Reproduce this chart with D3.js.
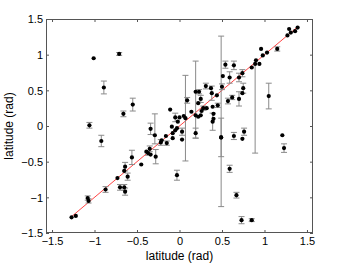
<!DOCTYPE html>
<html><head><meta charset="utf-8">
<script src="https://cdn.jsdelivr.net/npm/d3@7"></script>
<style>html,body{margin:0;padding:0;background:#fff;}svg{display:block;}</style>
</head><body>
<svg id="c" width="346" height="264"></svg>
<script>
// true latitude (x), estimated latitude (y), lower / upper error
const xVals = [-1.27,-1.22,-1.08,-1.07,-1.06,-1.01,-0.92,-0.89,-0.87,-0.73,-0.71,-0.70,-0.66,-0.65,-0.64,-0.64,-0.65,-0.61,-0.56,-0.55,-0.45,-0.39,-0.37,-0.35,-0.34,-0.34,-0.29,-0.28,-0.22,-0.21,-0.16,-0.15,-0.11,-0.09,-0.08,-0.08,-0.05,-0.05,-0.03,-0.03,-0.02,0.00,0.03,0.03,0.05,0.07,0.09,0.14,0.19,0.19,0.19,0.22,0.22,0.23,0.25,0.25,0.26,0.28,0.31,0.32,0.37,0.38,0.39,0.39,0.40,0.40,0.44,0.45,0.49,0.49,0.51,0.50,0.54,0.57,0.59,0.59,0.62,0.64,0.64,0.67,0.70,0.70,0.73,0.74,0.74,0.74,0.75,0.76,0.85,0.85,0.89,0.94,0.90,0.96,0.98,1.03,1.05,1.15,1.21,1.23,1.27,1.29,1.31,1.36,1.39];
const yVals = [-1.28,-1.26,-1.01,-1.05,0.01,0.95,-0.21,0.54,-0.89,-0.73,1.01,-0.86,0.17,-0.86,-0.92,-0.57,-0.63,-0.71,-0.44,0.30,-0.54,-0.36,-0.38,-0.32,-0.40,-0.04,-0.13,-0.43,-0.23,-0.20,-0.14,-0.24,0.23,-0.01,-0.10,-0.17,-0.06,0.12,-0.03,-0.69,0.06,0.12,-0.19,-0.08,0.14,0.11,0.36,0.20,0.48,0.15,-0.10,0.13,0.32,0.48,0.38,0.15,0.21,0.25,0.56,0.25,0.53,0.46,0.27,0.06,0.17,0.10,0.43,0.29,-0.16,-0.16,0.70,0.55,0.86,0.35,0.68,-0.60,0.40,0.85,-0.14,-0.97,0.68,0.38,-1.32,0.74,0.46,-0.18,0.53,-0.08,-1.32,0.82,0.87,0.87,0.92,1.08,0.99,1.03,0.42,1.08,-0.13,-0.31,1.27,1.36,1.31,1.33,1.38];
const errLow = [0,0,0.03,0.03,0.04,0,0.08,0.09,0.04,0,0.02,0.04,0.04,0.04,0.05,0.06,0,0.05,0.10,0.09,0,0,0.03,0.04,0,0.08,0.12,0.10,0.04,0,0,0.03,0,0,0,0,0,0.06,0,0.07,0,0,0,0.05,0,0.60,0.04,0,0.65,0,0.07,0,0,0.03,0.05,0,0,0.03,0.04,0,0,0.10,0,0.12,0,0,0,0.03,0.97,0.27,0,0.04,0.05,0.04,0.08,0.05,0.03,0.06,0.05,0.04,0.06,0.10,0.05,0.05,0,0,0.07,0.05,0.02,0,1.25,0,0,0,0,0,0.18,0.03,0,0.06,0,0,0,0,0];
const errHigh = [0,0,0.03,0.03,0.04,0,0.08,0.09,0.04,0,0.02,0.04,0.04,0.04,0.05,0.06,0,0.05,0.10,0.09,0,0,0.03,0.04,0,0.08,0.30,0.10,0.04,0,0,0.03,0,0,0,0,0,0.06,0,0.07,0,0,0,0.05,0,0.60,0.04,0,0.43,0,0.07,0,0,0.03,0.05,0,0,0.03,0.04,0,0,0.10,0,0.12,0,0,0,0.03,1.42,0.27,0,0.04,0.05,0.04,0.08,0.05,0.03,0.06,0.05,0.04,0.06,0.10,0.05,0.05,0,0,0.07,0.05,0.02,0,0,0,0,0,0,0,0.18,0.03,0,0.06,0,0,0,0,0];
const tickVals = [-1.5,-1,-0.5,0,0.5,1,1.5];
const tickLabels = ["\u22121.5","\u22121","\u22120.5","0","0.5","1","1.5"];
const identityLine = [-1.27, 1.39];
const xLabel = "latitude (rad)", yLabel = "latitude (rad)";

const svg = d3.select("#c");
const L = 46, R = 313, T = 19, B = 233;
const x = d3.scaleLinear().domain([-Math.PI/2, Math.PI/2]).range([L, R]);
const y = d3.scaleLinear().domain([-1.5, 1.5]).range([B, T]);
const font = "Liberation Sans, Arial, Helvetica, sans-serif";
const data = xVals.map((v,i)=>({x:v,y:yVals[i],lo:errLow[i],hi:errHigh[i]}));

// axes with inward ticks
const fmt = (d)=>tickLabels[tickVals.indexOf(d)];
const gx = svg.append("g").attr("transform",`translate(0,${B})`)
  .call(d3.axisBottom(x).tickValues(tickVals).tickFormat(fmt).tickSizeInner(-3).tickSizeOuter(0).tickPadding(4));
const gxt = svg.append("g").attr("transform",`translate(0,${T})`)
  .call(d3.axisTop(x).tickValues(tickVals).tickFormat("").tickSizeInner(-3).tickSizeOuter(0));
const gy = svg.append("g").attr("transform",`translate(${L},0)`)
  .call(d3.axisLeft(y).tickValues(tickVals).tickFormat(fmt).tickSizeInner(-3).tickSizeOuter(0).tickPadding(3));
const gyr = svg.append("g").attr("transform",`translate(${R},0)`)
  .call(d3.axisRight(y).tickValues(tickVals).tickFormat("").tickSizeInner(-3).tickSizeOuter(0));
[gx,gxt,gy,gyr].forEach(g=>{
  g.select(".domain").remove();
  g.selectAll("line").attr("stroke","#555");
  g.selectAll("text").attr("fill","#000").style("font-family",font).style("font-size","11px");
});
gy.selectAll("text").attr("dy","0.35em");
svg.append("rect").attr("x",L+0.5).attr("y",T+0.5).attr("width",R-L-1).attr("height",B-T-1)
  .attr("fill","none").attr("stroke","#555").attr("stroke-width",1);

// clip region
svg.append("clipPath").attr("id","clip").append("rect").attr("x",L).attr("y",T).attr("width",R-L).attr("height",B-T);
const plot = svg.append("g").attr("clip-path","url(#clip)");

// identity line
plot.append("line").attr("x1",x(identityLine[0])).attr("y1",y(identityLine[0]))
  .attr("x2",x(identityLine[1])).attr("y2",y(identityLine[1]))
  .attr("stroke","#ff3030").attr("stroke-width",0.9);

// error bars
const eb = plot.append("g").attr("stroke","#8a8a8a").attr("stroke-width",1).attr("fill","none");
const withErr = data.filter(d=>d.lo>0||d.hi>0);
eb.selectAll("line.v").data(withErr).join("line").attr("class","v")
  .attr("x1",d=>x(d.x)).attr("x2",d=>x(d.x)).attr("y1",d=>y(d.y-d.lo)).attr("y2",d=>y(d.y+d.hi));
eb.selectAll("line.lo").data(withErr.filter(d=>d.lo>0)).join("line").attr("class","lo")
  .attr("x1",d=>x(d.x)-3).attr("x2",d=>x(d.x)+3).attr("y1",d=>y(d.y-d.lo)).attr("y2",d=>y(d.y-d.lo));
eb.selectAll("line.hi").data(withErr.filter(d=>d.hi>0)).join("line").attr("class","hi")
  .attr("x1",d=>x(d.x)-3).attr("x2",d=>x(d.x)+3).attr("y1",d=>y(d.y+d.hi)).attr("y2",d=>y(d.y+d.hi));

// points
plot.append("g").selectAll("circle").data(data).join("circle")
  .attr("cx",d=>x(d.x)).attr("cy",d=>y(d.y)).attr("r",2.1).attr("fill","#000");

// labels
svg.append("text").attr("x",(L+R)/2).attr("y",260).attr("text-anchor","middle")
  .style("font-family",font).style("font-size","12px").text(xLabel);
svg.append("text").attr("transform",`translate(13,${(T+B)/2}) rotate(-90)`).attr("text-anchor","middle")
  .style("font-family",font).style("font-size","12px").text(yLabel);
</script>
</body></html>
